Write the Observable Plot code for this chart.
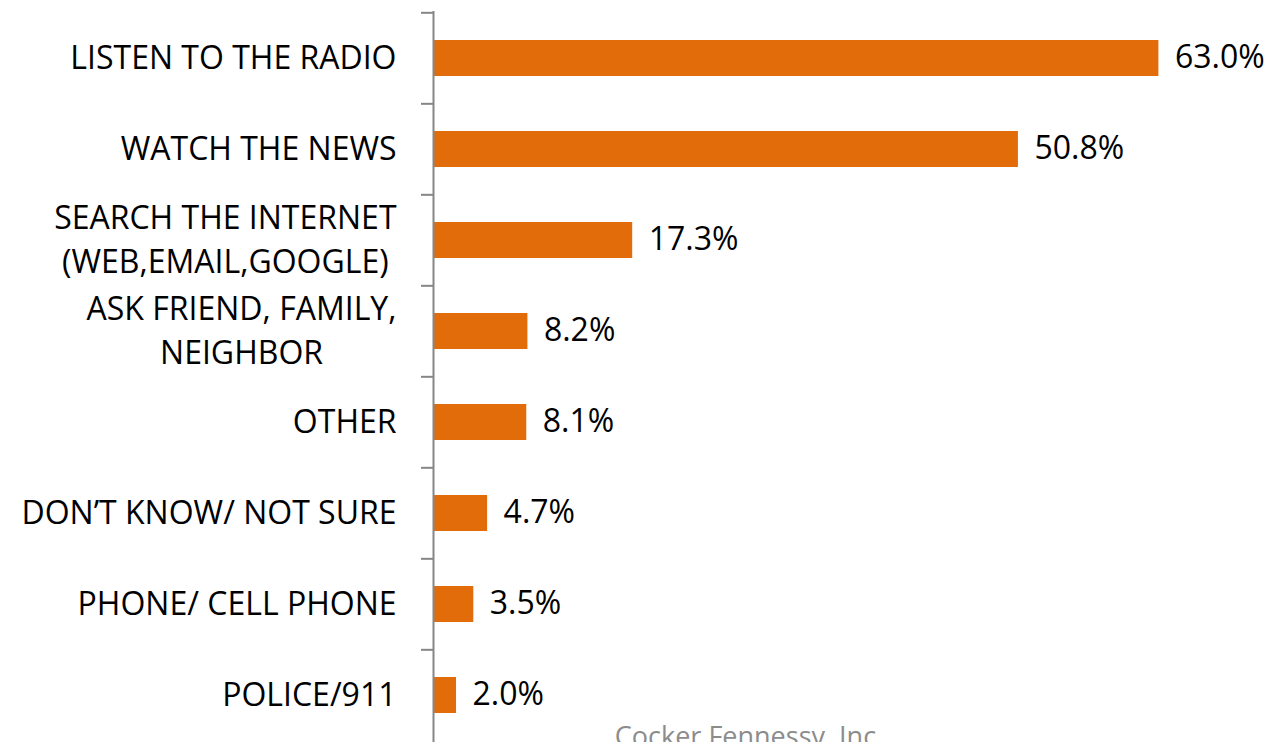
<!DOCTYPE html>
<html>
<head>
<meta charset="utf-8">
<script src="https://cdn.jsdelivr.net/npm/d3@7"></script>
<script src="https://cdn.jsdelivr.net/npm/@observablehq/plot@0.6"></script>
<style>
  html, body { margin: 0; padding: 0; background: #fff; overflow: hidden; }
  #wrap { position: relative; width: 1272px; height: 742px; }
  #caption { position: absolute; left: 749px; top: 722px; transform: translateX(-50%);
    font-family: "Open Sans", sans-serif; font-size: 27px; color: #8c8c8c; white-space: nowrap; line-height: 1; }
</style>
</head>
<body>
<div id="wrap"><div id="chart"></div><div id="caption">Cocker Fennessy, Inc.</div></div>
<script>
const categories = [
  "LISTEN TO THE RADIO",
  "WATCH THE NEWS",
  "SEARCH THE INTERNET\n(WEB,EMAIL,GOOGLE)",
  "ASK FRIEND, FAMILY,\nNEIGHBOR",
  "OTHER",
  "DON’T KNOW/ NOT SURE",
  "PHONE/ CELL PHONE",
  "POLICE/911"
];
const values = [63.0, 50.8, 17.3, 8.2, 8.1, 4.7, 3.5, 2.0];
const caption = "Cocker Fennessy, Inc.";

const data = categories.map((c, i) => ({category: c, value: values[i]}));

const FONT = "'Open Sans', sans-serif";
const FS = 32;
const width = 1272, height = 742, mTop = 11, mBottom = 0, mLeft = 433, mRight = 33;
const step = (height - mTop - mBottom) / categories.length;
const labelGap = 37;

const ctx = document.createElement("canvas").getContext("2d");
ctx.font = `${FS}px ${FONT}`;
const blockWidth = s => Math.max(...s.split("\n").map(l => ctx.measureText(l).width));

const labelMarks = categories.map(c => Plot.text([c], {
  x: () => 0, y: d => d, text: d => d,
  textAnchor: "middle", lineAnchor: "middle",
  dx: -(labelGap + blockWidth(c) / 2), dy: -4,
  lineHeight: 44 / FS, fill: "#000"
}));

const chart = Plot.plot({
  width, height,
  marginTop: mTop, marginBottom: mBottom, marginLeft: mLeft, marginRight: mRight,
  style: {fontFamily: FONT, fontSize: FS + "px", background: "#fff", overflow: "visible"},
  x: {domain: [0, 70], axis: null},
  y: {domain: categories, paddingInner: 0.607, paddingOuter: 0.3035, axis: null},
  marks: [
    Plot.barX(data, {x: "value", y: "category", fill: "#E36C0A"}),
    Plot.ruleX([0], {stroke: "#868686", strokeWidth: 2}),
    Plot.axisY({ticks: categories, text: null, label: null, tickSize: 12, dy: -step / 2, stroke: "#868686", strokeWidth: 2}),
    ...labelMarks,
    Plot.text(data, {x: "value", y: "category", text: d => d.value.toFixed(1) + "%", textAnchor: "start", dx: 16, dy: -1, fill: "#000"})
  ]
});
document.getElementById("chart").appendChild(chart);
document.getElementById("caption").textContent = caption;
</script>
</body>
</html>
